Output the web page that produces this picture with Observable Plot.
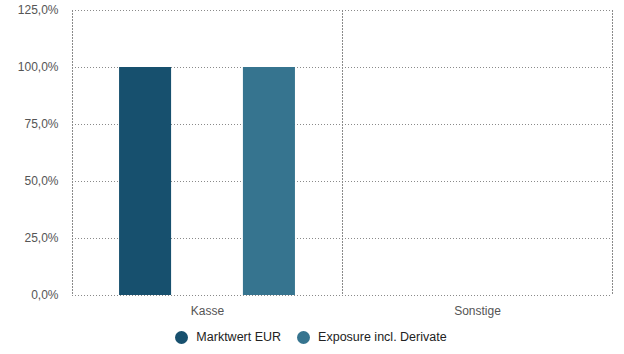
<!DOCTYPE html>
<html>
<head>
<meta charset="utf-8">
<script src="https://cdn.jsdelivr.net/npm/d3@7"></script>
<script src="https://cdn.jsdelivr.net/npm/@observablehq/plot@0.6"></script>
<style>
  html, body { margin: 0; padding: 0; background: #fff; }
  body { width: 624px; height: 354px; overflow: hidden; font-family: "Liberation Sans", Arial, Helvetica, sans-serif; }
  #legend { display: flex; justify-content: center; align-items: center; height: 30px; font-size: 12.5px; color: #222; margin-left: -2px; }
  .item { display: flex; align-items: center; margin: 0 8px; }
  .sw { width: 13px; height: 13px; border-radius: 50%; margin-right: 8px; }
</style>
</head>
<body>
<div id="chart"></div>
<div id="legend"></div>
<script>
const categories = ["Kasse", "Sonstige"];
const series = ["Marktwert EUR", "Exposure incl. Derivate"];
const marktwert = [1.0, 0];
const exposure = [1.0, 0];
const yTicks = [0, 0.25, 0.5, 0.75, 1.0, 1.25];
const colors = ["#17506e", "#36748f"];

const data = [];
categories.forEach((c, i) => {
  data.push({category: c, series: series[0], value: marktwert[i]});
  data.push({category: c, series: series[1], value: exposure[i]});
});

const fmt = d => (d * 100).toFixed(1).replace(".", ",") + "%";
const gridStyle = {stroke: "#8a8a8a", strokeDasharray: "1,2", strokeOpacity: 1};

const chart = Plot.plot({
  width: 624,
  height: 322,
  marginLeft: 72,
  marginRight: 12,
  marginTop: 10,
  marginBottom: 27,
  style: {fontFamily: "Liberation Sans, Arial, Helvetica, sans-serif", fontSize: "12px", color: "#555"},
  fx: {domain: categories, padding: 0, label: null, tickSize: 0, tickPadding: 11, axis: "bottom"},
  x: {domain: series, paddingInner: 0.58, paddingOuter: 0.38, axis: null, round: false},
  y: {domain: [0, 1.25], ticks: yTicks, tickFormat: fmt, label: null, tickSize: 0, tickPadding: 14},
  color: {domain: series, range: colors},
  marks: [
    Plot.ruleY(yTicks, gridStyle),
    Plot.frame({anchor: "left", ...gridStyle}),
    Plot.frame({anchor: "right", ...gridStyle}),
    Plot.barY(data, {fx: "category", x: "series", y: "value", fill: "series"})
  ]
});
document.getElementById("chart").appendChild(chart);

const legend = document.getElementById("legend");
series.forEach((s, i) => {
  const it = document.createElement("div");
  it.className = "item";
  const sw = document.createElement("span");
  sw.className = "sw";
  sw.style.background = colors[i];
  const t = document.createElement("span");
  t.textContent = s;
  it.appendChild(sw);
  it.appendChild(t);
  legend.appendChild(it);
});
</script>
</body>
</html>
